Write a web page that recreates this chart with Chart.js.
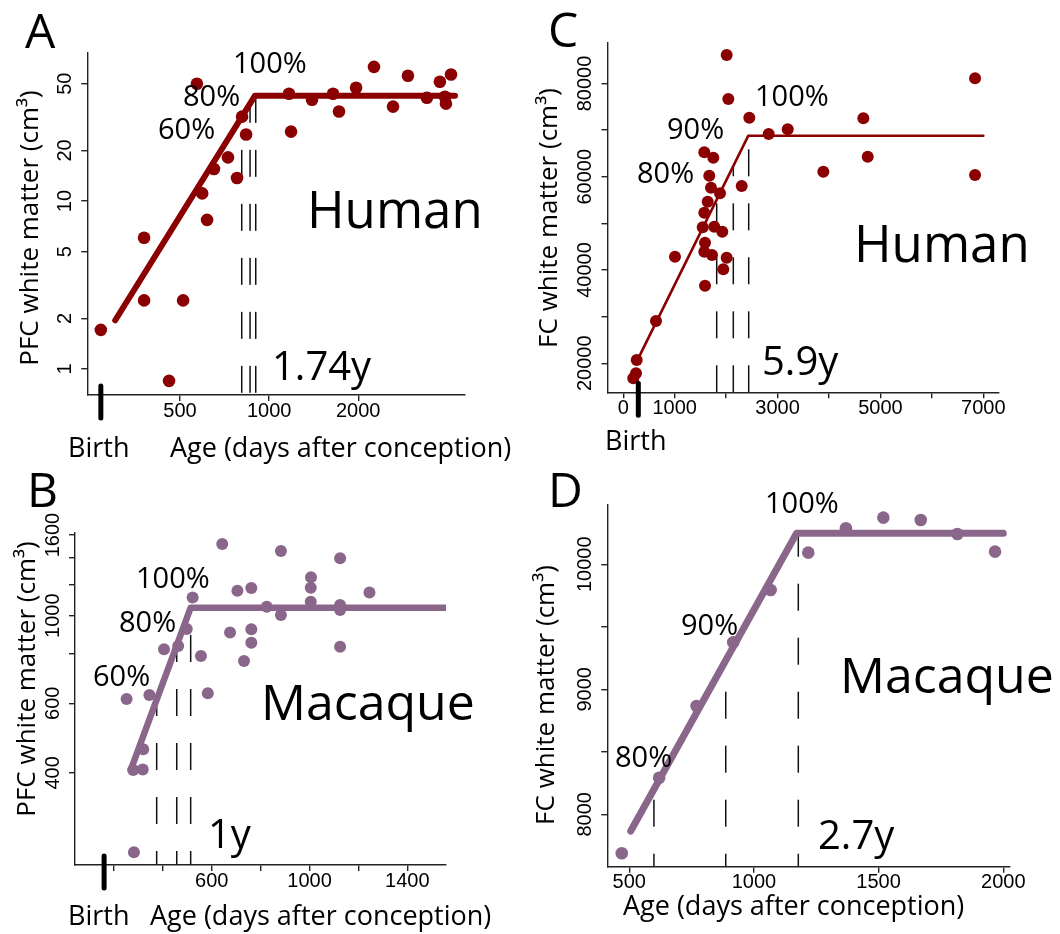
<!DOCTYPE html>
<html>
<head>
<meta charset="utf-8">
<title>White matter growth</title>
<script src="https://cdn.jsdelivr.net/npm/chart.js@4.4.0/dist/chart.umd.min.js"></script>
<style>
  html, body { margin: 0; padding: 0; background: #fff; }
  #fig { position: relative; width: 1060px; height: 934px; }
  .panel { position: absolute; }
</style>
</head>
<body>
<div id="fig">
  <div class="panel" style="left:0;top:0"><canvas id="chartA" width="520" height="467"></canvas></div>
  <div class="panel" style="left:520px;top:0"><canvas id="chartC" width="540" height="467"></canvas></div>
  <div class="panel" style="left:0;top:467px"><canvas id="chartB" width="520" height="467"></canvas></div>
  <div class="panel" style="left:520px;top:467px"><canvas id="chartD" width="540" height="467"></canvas></div>
</div>
<script>
const RED = '#8b0000';
const PLUM = '#8b668b';

// A - human PFC white matter (log-log)
const ageA = [270, 378, 378, 459, 512, 570, 594, 617, 651, 726, 779, 810, 836, 1167, 1186, 1396, 1644, 1722, 1967, 2261, 2622, 2945, 3412, 3776, 3927, 3958, 4117];
const volA = [1.71, 6.04, 2.56, 0.85, 2.56, 49.9, 11.1, 7.72, 15.5, 18.2, 13.7, 31.8, 24.9, 43.5, 25.9, 40.1, 43.5, 34.1, 47.3, 62.9, 36.5, 55.7, 41.2, 51.3, 41.8, 38.0, 56.7];
const fitAgeA = [302, 896, 4246];
const fitVolA = [1.95, 42.4, 42.4];
const pctAgeA = [808, 862, 901];
const pctTopA = [31.6, 37.9, 42.4];
const xTicksA = [500, 1000, 2000];
const yTicksA = [1, 2, 5, 10, 20, 50];

// B - macaque PFC white matter (log y)
const ageB = [643, 883, 1125, 1006, 1005, 705, 762, 1245, 522, 1005, 825, 1125, 1125, 883, 498, 762, 675, 762, 463, 405, 1125, 556, 732, 345, 252, 584, 320, 279, 318, 282];
const volB = [1519, 1458, 1398, 1251, 1177, 1157, 1175, 1144, 1111, 1085, 1054, 1064, 1034, 1004, 925, 924, 906, 854, 838, 822, 834, 791, 768, 630, 615, 636, 459, 407, 408, 252];
const fitAgeB = [269, 514, 1602];
const fitVolB = [407, 1048, 1048];
const pctAgeB = [375, 457, 514];
const pctTopB = [613, 841, 1048];
const xTicksB = [200, 400, 600, 800, 1000, 1200, 1400];
const xLabelsB = [600, 1000, 1400];
const yTicksB = [400, 600, 800, 1000, 1200, 1400, 1600];
const yLabelsB = [400, 600, 1000, 1600];

// C - human FC white matter (linear)
const ageC = [2010, 2042, 2450, 2827, 3197, 4667, 6839, 4752, 3889, 6839, 1575, 1750, 1672, 2302, 1705, 1880, 1641, 1575, 1544, 1769, 1925, 1589, 1575, 1725, 1005, 2010, 1944, 1589, 636, 261, 247, 194];
const volC = [86100, 76670, 72660, 69160, 70170, 72530, 81100, 64300, 61080, 60370, 65240, 64080, 60220, 58010, 57650, 56450, 54650, 52290, 49160, 49290, 48220, 45860, 43930, 43220, 42850, 42640, 40150, 36640, 29070, 20710, 17860, 16780];
const fitAgeC = [292, 2431, 7000];
const fitVolC = [21070, 68800, 68800];
const pctAgeC = [1816, 2139, 2438];
const pctTopC = [55080, 62290, 68800];
const xTicksC = [0, 1000, 2000, 3000, 4000, 5000, 6000, 7000];
const xLabelsC = [0, 1000, 3000, 5000, 7000];
const yTicksC = [20000, 30000, 40000, 50000, 60000, 70000, 80000];
const yLabelsC = [20000, 40000, 60000, 80000];

// D - macaque FC white matter (linear)
const ageD = [470, 620, 770, 917, 1067, 1218, 1369, 1519, 1669, 1816, 1967];
const volD = [7688, 8293, 8866, 9376, 9794, 10093, 10288, 10373, 10354, 10242, 10101];
const fitAgeD = [506, 1171, 2000];
const fitVolD = [7866, 10248, 10248];
const pctAgeD = [599, 887, 1178];
const pctTopD = [8199, 9231, 10248];
const xTicksD = [500, 1000, 1500, 2000];
const yTicksD = [8000, 8500, 9000, 9500, 10000];
const yLabelsD = [8000, 9000, 10000];

const pairs = (xs, ys) => xs.map((x, i) => ({ x: x, y: ys[i] }));
const sans = (size) => size + 'px "Open Sans", "Noto Sans", sans-serif';

const panelText = {
    id: 'panelText',
    afterDraw(chart, args, opts) {
        const ctx = chart.ctx;
        const xs = chart.scales.x;
        const ys = chart.scales.y;
        const area = chart.chartArea;
        ctx.save();
        ctx.fillStyle = '#000';

        // tick labels
        ctx.font = '20px "Liberation Sans", Arial, sans-serif';
        ctx.textAlign = 'center';
        ctx.textBaseline = 'middle';
        opts.xLabels.forEach(v => ctx.fillText(String(v), xs.getPixelForValue(v), area.bottom + 16));
        opts.yLabels.forEach(v => {
            ctx.save();
            ctx.translate(area.left - 22, ys.getPixelForValue(v));
            ctx.rotate(-Math.PI / 2);
            ctx.fillText(String(v), 0, 0);
            ctx.restore();
        });

        // birth marker under the x axis
        if (opts.birth != null) {
            const bx = xs.getPixelForValue(opts.birth);
            ctx.strokeStyle = '#000';
            ctx.lineWidth = 5;
            ctx.lineCap = 'round';
            ctx.beginPath();
            ctx.moveTo(bx, area.bottom - 9);
            ctx.lineTo(bx, area.bottom + 23);
            ctx.stroke();
        }

        // y axis title
        ctx.font = sans(26);
        ctx.save();
        ctx.translate(opts.yTitle.x, opts.yTitle.y);
        ctx.rotate(-Math.PI / 2);
        ctx.fillText(opts.yTitle.text, 0, 0);
        ctx.restore();

        // annotations
        ctx.textAlign = 'left';
        ctx.textBaseline = 'alphabetic';
        opts.texts.forEach(t => {
            ctx.font = sans(t.size);
            ctx.fillText(t.text, t.x, t.y);
        });
        ctx.restore();
    }
};

function axis(a, horizontal) {
    return {
        type: a.type,
        min: a.min,
        max: a.max,
        afterBuildTicks: (s) => { s.ticks = a.ticks.map(v => ({ value: v })); },
        afterFit: (s) => { if (horizontal) s.height = 0; else s.width = 0; },
        ticks: { display: false, autoSkip: false },
        grid: { drawOnChartArea: false, drawTicks: true, tickLength: 6, color: '#222', lineWidth: 1.4 },
        border: { display: true, color: '#222', width: 1.4 }
    };
}

function makePanel(id, p) {
    const dashed = p.pctAges.map((x, i) => ({
        type: 'line',
        showLine: true,
        data: [{ x: x, y: p.y.min }, { x: x, y: p.pctTops[i] }],
        borderColor: '#111',
        borderWidth: 1.5,
        borderDash: [27, 27],
        borderDashOffset: p.dashOffset,
        pointRadius: 0
    }));

    return new Chart(document.getElementById(id), {
        type: 'scatter',
        data: {
            datasets: [
                {
                    data: pairs(p.ages, p.vols),
                    backgroundColor: p.color,
                    borderWidth: 0,
                    pointRadius: p.radius,
                    pointHoverRadius: p.radius,
                    clip: false
                },
                {
                    type: 'line',
                    showLine: true,
                    data: pairs(p.fitAges, p.fitVols),
                    borderColor: p.color,
                    borderWidth: p.fitWidth,
                    borderCapStyle: 'round',
                    borderJoinStyle: 'round',
                    pointRadius: 0,
                    tension: 0
                },
                ...dashed
            ]
        },
        options: {
            responsive: false,
            animation: false,
            events: [],
            layout: { padding: p.pad },
            scales: { x: axis(p.x, true), y: axis(p.y, false) },
            plugins: {
                legend: { display: false },
                tooltip: { enabled: false },
                panelText: {
                    xLabels: p.x.labels,
                    yLabels: p.y.labels,
                    birth: p.birth,
                    yTitle: p.yTitle,
                    texts: p.texts
                }
            }
        },
        plugins: [panelText]
    });
}

makePanel('chartA', {
    color: RED, radius: 6.3, fitWidth: 6, dashOffset: 0,
    ages: ageA, vols: volA, fitAges: fitAgeA, fitVols: fitVolA, pctAges: pctAgeA, pctTops: pctTopA,
    x: { type: 'logarithmic', min: 243, max: 4590, ticks: xTicksA, labels: xTicksA },
    y: { type: 'logarithmic', min: 0.721, max: 76.1, ticks: yTicksA, labels: yTicksA },
    pad: { left: 87.3, top: 53, right: 55, bottom: 72 },
    birth: 270,
    yTitle: { text: 'PFC white matter (cm³)', x: 31, y: 228 },
    texts: [
        { text: 'A', x: 25, y: 48, size: 48 },
        { text: '100%', x: 233, y: 73, size: 29 },
        { text: '80%', x: 183, y: 106, size: 29 },
        { text: '60%', x: 158, y: 139, size: 29 },
        { text: 'Human', x: 307, y: 228, size: 51 },
        { text: '1.74y', x: 272, y: 380, size: 40 },
        { text: 'Birth', x: 68, y: 457, size: 27 },
        { text: 'Age (days after conception)', x: 170, y: 457, size: 27 }
    ]
});

makePanel('chartC', {
    color: RED, radius: 6, fitWidth: 2.6, dashOffset: 0,
    ages: ageC, vols: volC, fitAges: fitAgeC, fitVols: fitVolC, pctAges: pctAgeC, pctTops: pctTopC,
    x: { type: 'linear', min: -307, max: 7291, ticks: xTicksC, labels: xLabelsC },
    y: { type: 'linear', min: 13782, max: 88672, ticks: yTicksC, labels: yLabelsC },
    pad: { left: 87.5, top: 43, right: 61.7, bottom: 74.7 },
    birth: 292,
    yTitle: { text: 'FC white matter (cm³)', x: 30, y: 218 },
    texts: [
        { text: 'C', x: 28, y: 47, size: 48 },
        { text: '100%', x: 235, y: 106, size: 29 },
        { text: '90%', x: 147, y: 139, size: 29 },
        { text: '80%', x: 117, y: 183, size: 29 },
        { text: 'Human', x: 334, y: 262, size: 51 },
        { text: '5.9y', x: 242, y: 375, size: 40 },
        { text: 'Birth', x: 85, y: 450, size: 27 }
    ]
});

makePanel('chartB', {
    color: PLUM, radius: 6, fitWidth: 6.5, dashOffset: 13,
    ages: ageB, vols: volB, fitAges: fitAgeB, fitVols: fitVolB, pctAges: pctAgeB, pctTops: pctTopB,
    x: { type: 'linear', min: 41, max: 1558, ticks: xTicksB, labels: xLabelsB },
    y: { type: 'logarithmic', min: 233.8, max: 1622, ticks: yTicksB, labels: yLabelsB },
    pad: { left: 75, top: 65.7, right: 74, bottom: 69 },
    birth: 160,
    yTitle: { text: 'PFC white matter (cm³)', x: 28, y: 212 },
    texts: [
        { text: 'B', x: 27, y: 40, size: 48 },
        { text: '100%', x: 136, y: 121, size: 29 },
        { text: '80%', x: 119, y: 165, size: 29 },
        { text: '60%', x: 93, y: 219, size: 29 },
        { text: 'Macaque', x: 261, y: 253, size: 50 },
        { text: '1y', x: 208, y: 381, size: 40 },
        { text: 'Birth', x: 68, y: 458, size: 27 },
        { text: 'Age (days after conception)', x: 150, y: 458, size: 27 }
    ]
});

makePanel('chartD', {
    color: PLUM, radius: 6.3, fitWidth: 7, dashOffset: 14,
    ages: ageD, vols: volD, fitAges: fitAgeD, fitVols: fitVolD, pctAges: pctAgeD, pctTops: pctTopD,
    x: { type: 'linear', min: 412, max: 2027, ticks: xTicksD, labels: xTicksD },
    y: { type: 'linear', min: 7581, max: 10474, ticks: yTicksD, labels: yLabelsD },
    pad: { left: 87.3, top: 38, right: 50, bottom: 67.3 },
    birth: null,
    yTitle: { text: 'FC white matter (cm³)', x: 27, y: 228 },
    texts: [
        { text: 'D', x: 28, y: 40, size: 48 },
        { text: '100%', x: 245, y: 46, size: 29 },
        { text: '90%', x: 161, y: 168, size: 29 },
        { text: '80%', x: 95, y: 300, size: 29 },
        { text: 'Macaque', x: 320, y: 226, size: 50 },
        { text: '2.7y', x: 298, y: 382, size: 40 },
        { text: 'Age (days after conception)', x: 103, y: 448, size: 27 }
    ]
});
</script>
</body>
</html>
